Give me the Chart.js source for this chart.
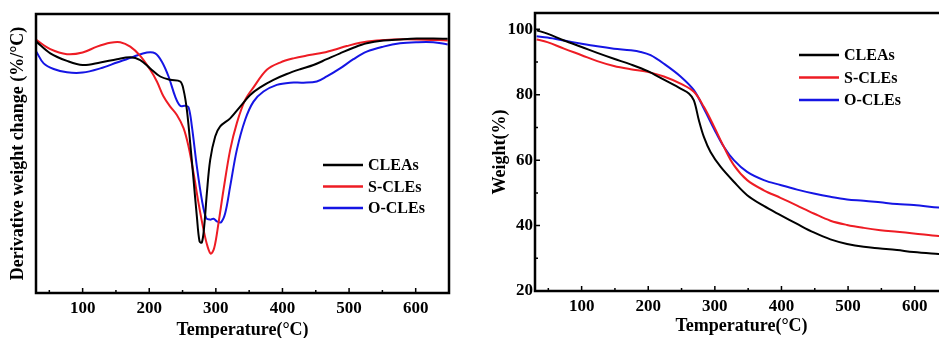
<!DOCTYPE html>
<html>
<head>
<meta charset="utf-8">
<script src="https://cdn.jsdelivr.net/npm/chart.js@4/dist/chart.umd.min.js"></script>
<style>
  html, body { margin: 0; padding: 0; background: #fff; }
  #wrap { position: relative; width: 939px; height: 338px; overflow: hidden; }
  #left { position: absolute; left: 0; top: 0; }
  #right { position: absolute; left: 480px; top: 0; }
</style>
</head>
<body>
<div id="wrap">
  <canvas id="left" width="452" height="338"></canvas>
  <canvas id="right" width="470" height="338"></canvas>
</div>
<script>
// ---- DTG curves (derivative weight change, arbitrary units) ----
const dtgCleasT = [30.5, 51.5, 76.5, 100, 126.5, 151.5, 171.5, 186.5, 201.5, 216.5, 231.5, 246.5, 251.5, 256.5, 261.5, 266.5, 271.5, 275.5, 279, 282.5, 286.5, 291.5, 299, 306.5, 321.5, 336.5, 351.5, 366.5, 386.5, 406.5, 426.5, 446.5, 466.5, 486.5, 506.5, 526.5, 551.5, 576.5, 601.5, 626.5, 648];
const dtgCleasV = [90.1, 85.9, 83.2, 81.7, 82.6, 83.8, 84.5, 83.5, 80.5, 77.6, 76.4, 75.8, 72.8, 65.6, 53.7, 40.6, 27.4, 18.5, 18.1, 23.9, 35.8, 47.7, 56.1, 59.7, 62.6, 66.8, 71.0, 73.7, 76.4, 78.5, 80.2, 81.7, 83.8, 85.9, 87.9, 89.5, 90.5, 90.9, 91.2, 91.2, 91.1];

const dtgSclesT = [30.5, 51.5, 76.5, 100, 121.5, 141.5, 156.5, 171.5, 186.5, 201.5, 211.5, 221.5, 231.5, 241.5, 251.5, 259, 266.5, 274, 281.5, 287.5, 292.5, 297.5, 304, 311.5, 321.5, 331.5, 344, 356.5, 376.5, 396.5, 416.5, 436.5, 456.5, 476.5, 496.5, 516.5, 541.5, 566.5, 601.5, 648];
const dtgSclesV = [90.7, 87.4, 85.6, 86.2, 88.3, 89.7, 89.9, 88.3, 85.0, 80.0, 75.8, 70.4, 66.8, 63.8, 59.1, 52.5, 43.0, 32.2, 22.7, 16.7, 14.1, 16.1, 25.1, 37.0, 51.3, 60.9, 69.2, 73.7, 80.0, 82.6, 84.1, 85.1, 85.9, 87.1, 88.5, 89.7, 90.5, 90.9, 90.9, 90.5];

const dtgOclesT = [30.5, 41.5, 56.5, 76.5, 100, 126.5, 151.5, 176.5, 196.5, 209, 219, 229, 239, 246.5, 254, 259, 264, 271.5, 279, 285.5, 291.5, 296.5, 301.5, 307.5, 314, 321.5, 331.5, 344, 356.5, 371.5, 391.5, 411.5, 431.5, 451.5, 466.5, 486.5, 506.5, 526.5, 551.5, 576.5, 601.5, 626.5, 648];
const dtgOclesV = [86.5, 82.3, 80.3, 79.1, 79.0, 80.5, 82.6, 84.7, 86.2, 85.9, 82.9, 77.6, 70.4, 67.1, 67.1, 66.6, 59.7, 45.3, 33.4, 26.8, 26.3, 26.6, 25.7, 25.3, 28.6, 38.2, 51.3, 62.1, 68.6, 72.2, 74.6, 75.4, 75.4, 75.8, 77.6, 80.5, 83.8, 86.5, 88.3, 89.5, 89.9, 89.9, 89.1];

// ---- TG curves (weight %) ----
const tgCleasT = [32.5, 48.5, 73.5, 100, 123.5, 148.5, 173.5, 198.5, 223.5, 248.5, 261, 268.5, 276, 283.5, 293.5, 308.5, 328.5, 348.5, 373.5, 398.5, 423.5, 448.5, 473.5, 498.5, 523.5, 548.5, 573.5, 598.5, 636, 650];
const tgCleasV = [99.7, 98.7, 96.6, 94.6, 92.8, 91.0, 89.3, 87.3, 84.6, 81.9, 80.4, 78.3, 72.2, 67.1, 62.5, 58.0, 53.4, 49.3, 46.0, 43.2, 40.5, 37.9, 35.8, 34.4, 33.5, 33.0, 32.5, 31.9, 31.3, 31.1];

const tgSclesT = [32.5, 48.5, 73.5, 100, 123.5, 148.5, 173.5, 198.5, 223.5, 248.5, 268.5, 283.5, 298.5, 313.5, 328.5, 348.5, 373.5, 398.5, 423.5, 448.5, 473.5, 498.5, 523.5, 548.5, 573.5, 598.5, 636, 650];
const tgSclesV = [96.9, 96.1, 94.1, 92.1, 90.3, 88.8, 87.8, 87.0, 85.6, 83.4, 80.9, 76.3, 70.4, 64.1, 58.5, 53.9, 50.8, 48.5, 46.1, 43.7, 41.5, 40.2, 39.3, 38.6, 38.1, 37.6, 36.8, 36.6];

const tgOclesT = [32.5, 48.5, 73.5, 100, 123.5, 148.5, 173.5, 188.5, 203.5, 223.5, 248.5, 268.5, 283.5, 298.5, 313.5, 328.5, 348.5, 373.5, 398.5, 423.5, 448.5, 473.5, 498.5, 523.5, 548.5, 573.5, 598.5, 636, 650];
const tgOclesV = [97.9, 97.5, 96.6, 95.6, 94.8, 94.1, 93.6, 93.1, 92.1, 89.5, 85.6, 81.4, 75.8, 69.7, 64.1, 60.0, 56.4, 53.9, 52.4, 51.0, 49.8, 48.8, 48.0, 47.6, 47.1, 46.6, 46.3, 45.5, 45.3];

const seriesNames = ['CLEAs', 'S-CLEs', 'O-CLEs'];
const seriesColors = ['#000000', '#ee1c24', '#1515e4'];
const xTicks = [100, 200, 300, 400, 500, 600];
const xMinor = [50, 150, 250, 350, 450, 550, 650];
const wTicks = [20, 40, 60, 80, 100];
const wMinor = [30, 50, 70, 90];

const FONT = "'Liberation Serif', 'Times New Roman', serif";

function pts(t, v) { return t.map((x, i) => ({ x: x, y: v[i] })); }

function makeSets(pairs) {
  return pairs.map((p, i) => ({
    label: seriesNames[i],
    data: pts(p[0], p[1]),
    borderColor: seriesColors[i],
    backgroundColor: seriesColors[i],
    borderWidth: 2,
    pointRadius: 0,
    fill: false,
    tension: 0.35
  }));
}

// frame, inward ticks and the line legend
const framePlugin = {
  id: 'frame',
  afterDatasetsDraw(chart, args, opts) {
    const ctx = chart.ctx;
    const a = chart.chartArea;
    const xs = chart.scales.x, ys = chart.scales.y;
    ctx.save();
    ctx.strokeStyle = '#000';
    ctx.lineWidth = 2.5;
    ctx.strokeRect(a.left, a.top, a.right - a.left, a.bottom - a.top);
    ctx.lineWidth = 1.5;
    ctx.beginPath();
    xTicks.forEach(v => { const px = xs.getPixelForValue(v); ctx.moveTo(px, a.bottom); ctx.lineTo(px, a.bottom - 5); });
    xMinor.forEach(v => { const px = xs.getPixelForValue(v); if (px < a.right - 2) { ctx.moveTo(px, a.bottom); ctx.lineTo(px, a.bottom - 3); } });
    if (opts.yMajor) {
      opts.yMajor.forEach(v => { const py = ys.getPixelForValue(v); ctx.moveTo(a.left, py); ctx.lineTo(a.left + 5, py); });
      opts.yMinor.forEach(v => { const py = ys.getPixelForValue(v); ctx.moveTo(a.left, py); ctx.lineTo(a.left + 3, py); });
    }
    ctx.stroke();

    // legend
    ctx.font = 'bold 16px ' + FONT;
    ctx.textBaseline = 'middle';
    ctx.textAlign = 'left';
    chart.data.datasets.forEach((ds, i) => {
      const y = opts.legY + i * opts.legGap;
      ctx.strokeStyle = ds.borderColor;
      ctx.lineWidth = 2.5;
      ctx.beginPath();
      ctx.moveTo(opts.legX, y);
      ctx.lineTo(opts.legX + 40, y);
      ctx.stroke();
      ctx.fillStyle = '#000';
      ctx.fillText(ds.label, opts.legX + 45, y + 1);
    });
    ctx.restore();
  }
};

function xScale(height, titlePad) {
  return {
    type: 'linear',
    min: 30,
    max: 650,
    afterBuildTicks: s => { s.ticks = xTicks.map(v => ({ value: v })); },
    afterFit: s => { s.height = height; },
    grid: { display: false },
    border: { display: false },
    ticks: { color: '#000', font: { family: FONT, size: 17, weight: 'bold' }, padding: -3, maxRotation: 0 },
    title: { display: true, text: 'Temperature(°C)', color: '#000', font: { family: FONT, size: 18, weight: 'bold' }, padding: { top: 0, bottom: titlePad } }
  };
}

Chart.defaults.animation = false;

new Chart(document.getElementById('left'), {
  type: 'line',
  data: { datasets: makeSets([[dtgCleasT, dtgCleasV], [dtgSclesT, dtgSclesV], [dtgOclesT, dtgOclesV]]) },
  options: {
    responsive: false,
    devicePixelRatio: 1,
    layout: { padding: { top: 14, right: 3, bottom: 0, left: 0 } },
    plugins: {
      legend: { display: false },
      tooltip: { enabled: false },
      frame: { legX: 323, legY: 165, legGap: 21.5 }
    },
    scales: {
      x: xScale(45, -3),
      y: {
        min: 0,
        max: 100,
        afterFit: s => { s.width = 36; },
        grid: { display: false },
        border: { display: false },
        ticks: { display: false },
        title: { display: true, text: 'Derivative weight change (%/°C)', color: '#000', font: { family: FONT, size: 18, weight: 'bold' }, padding: { top: 8, bottom: 0 } }
      }
    }
  },
  plugins: [framePlugin]
});

new Chart(document.getElementById('right'), {
  type: 'line',
  data: { datasets: makeSets([[tgCleasT, tgCleasV], [tgSclesT, tgSclesV], [tgOclesT, tgOclesV]]) },
  options: {
    responsive: false,
    devicePixelRatio: 1,
    layout: { padding: { top: 13, right: 2, bottom: 0, left: 0 } },
    plugins: {
      legend: { display: false },
      tooltip: { enabled: false },
      frame: { legX: 319, legY: 55, legGap: 22.5, yMajor: wTicks, yMinor: wMinor }
    },
    scales: {
      x: xScale(47, 1),
      y: {
        min: 20,
        max: 105,
        afterBuildTicks: s => { s.ticks = wTicks.map(v => ({ value: v })); },
        afterFit: s => { s.width = 55; },
        grid: { display: false },
        border: { display: false },
        ticks: { color: '#000', font: { family: FONT, size: 17, weight: 'bold' }, padding: -6 },
        title: { display: true, text: 'Weight(%)', color: '#000', font: { family: FONT, size: 18, weight: 'bold' }, padding: { top: 10, bottom: 0 } }
      }
    }
  },
  plugins: [framePlugin]
});
</script>
</body>
</html>
